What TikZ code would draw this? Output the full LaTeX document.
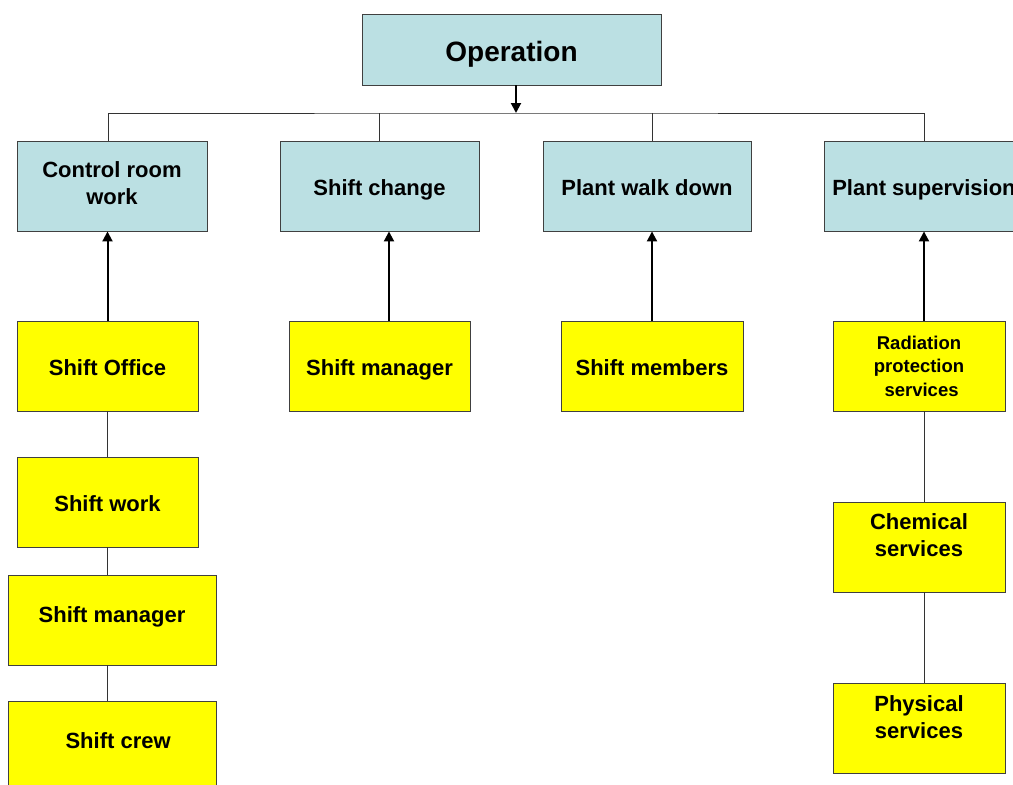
\documentclass[tikz,border=0pt]{standalone}
\usepackage{fontspec}
\setmainfont{Liberation Sans}
\usepackage{xcolor}
\usetikzlibrary{arrows.meta}

\definecolor{taskblue}{RGB}{187,224,227}
\definecolor{staffyellow}{RGB}{255,255,0}

\tikzset{
  box/.style={draw=black!75, line width=.9pt, align=center, inner sep=2pt,
    minimum height=90pt, font=\bfseries\fontsize{22}{26.5}\selectfont},
  oneline/.style={text height=18pt, text depth=0pt},
  twoline/.style={text height=#1, text depth=0pt},
  task/.style={box, fill=taskblue},
  staff/.style={box, fill=staffyellow},
  link/.style={draw=black!80, line width=.9pt},
  feed/.style={draw=black, line width=2pt, -{Triangle[length=10pt,width=10pt]}}
}

\begin{document}
\begin{tikzpicture}[x=1pt,y=-1pt]
  \useasboundingbox (0,0) rectangle (1013,785);
  \clip (0,0) rectangle (1013,785);

  % Top node
  \node[task, minimum width=299pt, minimum height=71pt, text height=23pt, text depth=0pt,
        font=\bfseries\fontsize{28}{32}\selectfont] (op) at (511.5,49.5) {Operation};

  % Tasks
  \node[task, twoline=36pt, minimum width=190pt] (crw) at (112,186) {Control room\\work};
  \node[task, oneline, minimum width=199pt] (sc)  at (379.5,186) {Shift change};
  \node[task, oneline, minimum width=208pt] (pwd) at (647,186) {Plant walk down};
  \node[task, oneline, minimum width=200pt] (ps)  at (924,186) {Plant supervision};

  % Staff, first row
  \node[staff, oneline, minimum width=181pt] (so)   at (107.5,366) {Shift Office};
  \node[staff, oneline, minimum width=181pt] (sm)   at (379.5,366) {Shift manager};
  \node[staff, oneline, minimum width=182pt] (smem) at (652,366) {Shift members};
  \node[staff, minimum width=172pt,
        font=\bfseries\fontsize{18.5}{23.5}\selectfont] (rps) at (919,366)
        {Radiation\\protection\\\ services};

  % Left column
  \node[staff, oneline, minimum width=181pt] (sw)  at (107.5,502) {Shift work};
  \node[staff, oneline, minimum width=208pt, text depth=14pt] (sm2) at (112,620) {Shift manager};
  \node[staff, oneline, minimum width=208pt, text depth=14pt] (scr) at (112,746) {\ \ Shift crew};

  % Right column
  \node[staff, twoline=18pt, minimum width=172pt] (chem) at (919,547) {Chemical\\services};
  \node[staff, twoline=20pt, minimum width=172pt] (phys) at (919,728) {Physical\\services};

  % Bus below the top node
  \coordinate (bus) at (516,113);
  \draw[feed] ([xshift=4.5pt]op.south) -- (bus);
  \draw[link] ([xshift=-4pt]crw.north) |- (bus) -| (ps.north);
  \draw[link] (sc.north) -- (sc.north |- bus);
  \draw[link] ([xshift=5pt]pwd.north) -- ([xshift=5pt]pwd.north |- bus);

  % Staff feeding the tasks
  \draw[feed] (so.north) -- (so.north |- crw.south);
  \draw[feed] ([xshift=9.5pt]sm.north) -- ([xshift=9.5pt]sm.north |- sc.south);
  \draw[feed] (smem.north) -- (smem.north |- pwd.south);
  \draw[feed] ([xshift=5pt]rps.north) -- ([xshift=5pt]rps.north |- ps.south);

  % Chains
  \draw[link] (so.south) -- (sw.north);
  \draw[link] (sw.south) -- (sw.south |- sm2.north);
  \draw[link] (sw.south |- sm2.south) -- (sw.south |- scr.north);
  \draw[link] ([xshift=5pt]rps.south) -- ([xshift=5pt]chem.north);
  \draw[link] ([xshift=5pt]chem.south) -- ([xshift=5pt]phys.north);
\end{tikzpicture}
\end{document}
